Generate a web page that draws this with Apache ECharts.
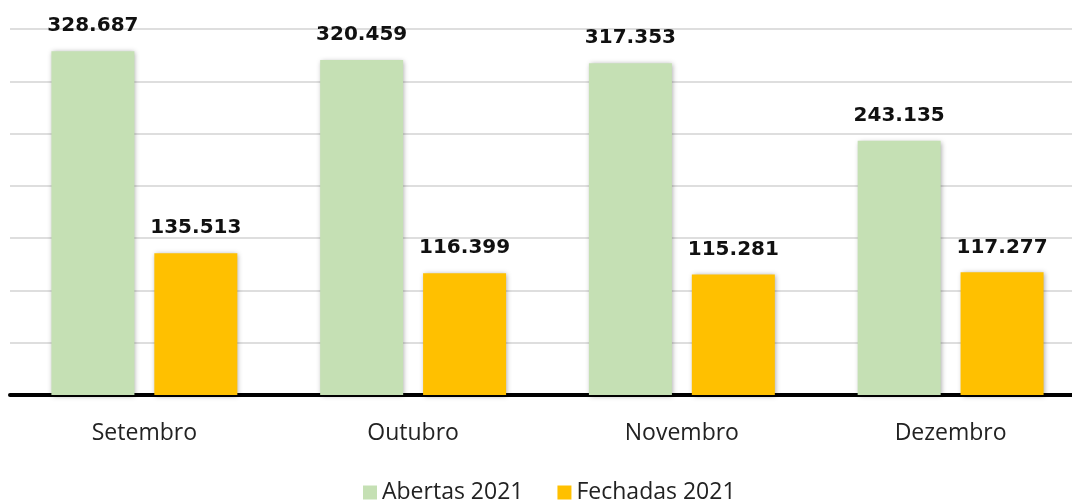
<!DOCTYPE html>
<html>
<head>
<meta charset="utf-8">
<script src="https://cdn.jsdelivr.net/npm/echarts@6/dist/echarts.min.js"></script>
<style>
    html, body { margin: 0; padding: 0; background: #fff; }
    #chart { width: 1072px; height: 500px; }
</style>
</head>
<body>
<div id="chart"></div>
<script>
    // dados do gráfico
    const months = ['Setembro', 'Outubro', 'Novembro', 'Dezembro'];
    const abertas2021 = [328687, 320459, 317353, 243135];
    const fechadas2021 = [135513, 116399, 115281, 117277];

    const fmt = v => String(v).replace(/\B(?=(\d{3})+(?!\d))/g, '.');

    const chart = echarts.init(document.getElementById('chart'));

    const label = {
        show: true,
        position: 'top',
        distance: 15,
        fontFamily: 'DejaVu Sans',
        fontWeight: 'bold',
        fontSize: 20,
        color: '#111',
        formatter: p => fmt(p.value)
    };

    const shadow = {
        shadowBlur: 5,
        shadowColor: 'rgba(0,0,0,0.35)',
        shadowOffsetX: 1,
        shadowOffsetY: 1
    };

    const option = {
        animation: false,
        textStyle: { fontFamily: 'Open Sans' },
        grid: {
            left: 10,
            top: 29,
            bottom: 105,
            width: 1075,
            outerBoundsMode: 'none'
        },
        legend: {
            top: 476,
            left: 358,
            itemWidth: 14,
            itemHeight: 14,
            itemGap: 34,
            icon: 'rect',
            textStyle: { fontSize: 23, color: '#222', fontFamily: 'Open Sans' },
            data: ['Abertas 2021', 'Fechadas 2021']
        },
        xAxis: {
            type: 'category',
            data: months,
            axisLine: { lineStyle: { color: '#000', width: 4 } },
            axisTick: { show: false },
            axisLabel: { fontSize: 23, color: '#222', margin: 27 }
        },
        yAxis: {
            type: 'value',
            min: 0,
            max: 350000,
            interval: 50000,
            axisLabel: { show: false },
            axisLine: { show: false },
            axisTick: { show: false },
            splitLine: { lineStyle: { color: '#dedede', width: 2 } }
        },
        series: [
            {
                name: 'Abertas 2021',
                type: 'bar',
                data: abertas2021,
                barWidth: 83,
                barGap: '24%',
                itemStyle: Object.assign({ color: '#c5e0b4' }, shadow),
                label: label
            },
            {
                name: 'Fechadas 2021',
                type: 'bar',
                data: fechadas2021,
                barWidth: 83,
                itemStyle: Object.assign({ color: '#ffc000' }, shadow),
                label: label
            }
        ]
    };

    chart.setOption(option);
</script>
</body>
</html>
